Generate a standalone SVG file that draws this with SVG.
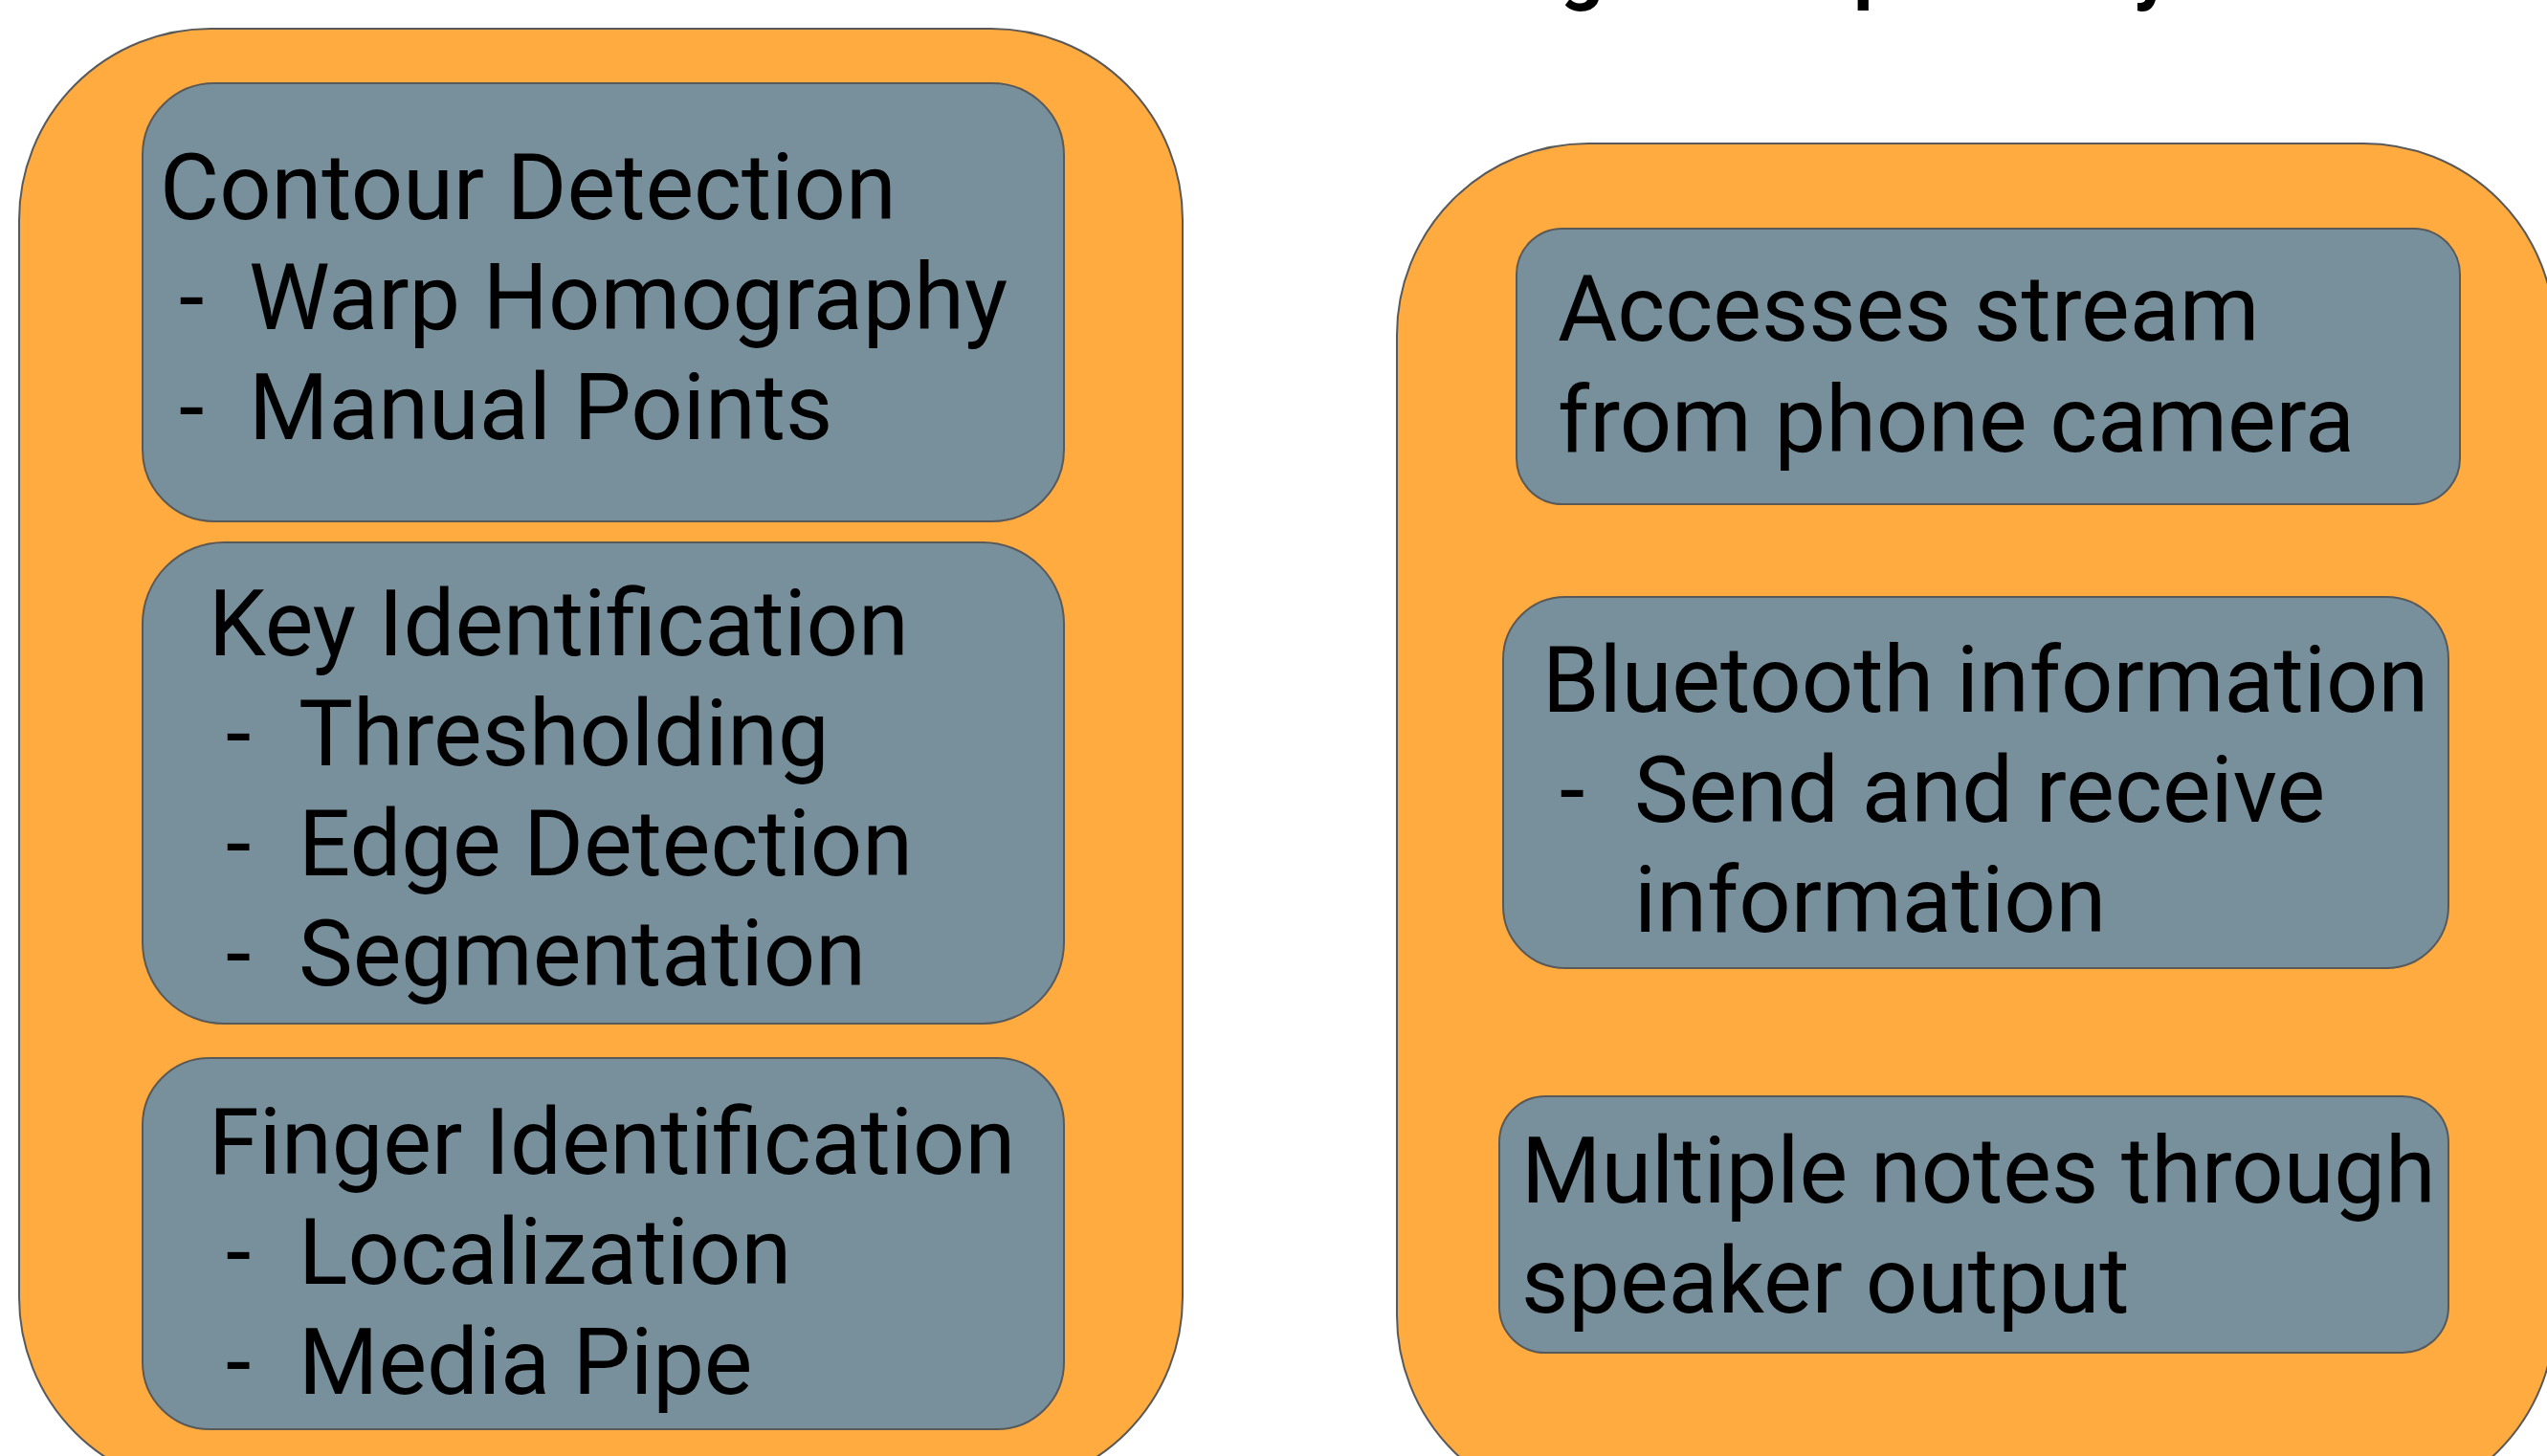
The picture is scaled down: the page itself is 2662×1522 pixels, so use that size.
<svg xmlns="http://www.w3.org/2000/svg" width="2662" height="1522" viewBox="0 0 2662 1522">
<style>
.panel{fill:#FFAB40;stroke:#595959;stroke-width:2}
.box{fill:#78909C;stroke:#595959;stroke-width:2}
.t{font-family:Roboto,"Noto Sans",sans-serif;font-size:95.5px;fill:#000}
.title{font-family:Roboto,"Noto Sans",sans-serif;font-size:80px;font-weight:bold;fill:#000}
</style>
<g id="title">
<text class="title" y="-5"><tspan x="1492">Integrated</tspan> <tspan x="1888">Speaker</tspan> <tspan x="2180">System</tspan></text>
</g>
<g id="left-panel">
<rect class="panel" x="20" y="30" width="1216" height="1526" rx="200" ry="200"/>
</g>
<g id="right-panel">
<rect class="panel" x="1460" y="150" width="1210" height="1425" rx="200" ry="200"/>
</g>
<g id="contour-detection">
<rect class="box" x="149" y="87" width="963" height="458" rx="75" ry="75"/>
<text class="t" x="167" y="229">Contour Detection</text>
<text class="t" x="187" y="344">-</text><text class="t" x="260" y="344">Warp Homography</text>
<text class="t" x="187" y="459">-</text><text class="t" x="260" y="459">Manual Points</text>
</g>
<g id="key-identification">
<rect class="box" x="149" y="567" width="963" height="503" rx="85" ry="85"/>
<text class="t" x="218" y="685">Key Identification</text>
<text class="t" x="236" y="800">-</text><text class="t" x="312" y="800">Thresholding</text>
<text class="t" x="236" y="915">-</text><text class="t" x="312" y="915">Edge Detection</text>
<text class="t" x="236" y="1030">-</text><text class="t" x="312" y="1030">Segmentation</text>
</g>
<g id="finger-identification">
<rect class="box" x="149" y="1106" width="963" height="388" rx="70" ry="70"/>
<text class="t" x="218" y="1227">Finger Identification</text>
<text class="t" x="236" y="1342">-</text><text class="t" x="312" y="1342">Localization</text>
<text class="t" x="236" y="1457">-</text><text class="t" x="312" y="1457">Media Pipe</text>
</g>
<g id="camera-stream">
<rect class="box" x="1585" y="239" width="986" height="288" rx="48" ry="48"/>
<text class="t" x="1628" y="356">Accesses stream</text>
<text class="t" x="1628" y="472">from phone camera</text>
</g>
<g id="bluetooth">
<rect class="box" x="1571" y="624" width="988" height="388" rx="65" ry="65"/>
<text class="t" x="1612" y="744">Bluetooth information</text>
<text class="t" x="1630" y="859">-</text><text class="t" x="1708" y="859">Send and receive</text>
<text class="t" x="1708" y="974">information</text>
</g>
<g id="speaker-output">
<rect class="box" x="1567" y="1146" width="992" height="268" rx="48" ry="48"/>
<text class="t" x="1590" y="1257">Multiple notes through</text>
<text class="t" x="1590" y="1372">speaker output</text>
</g>
<g id="connectors"/>
</svg>
